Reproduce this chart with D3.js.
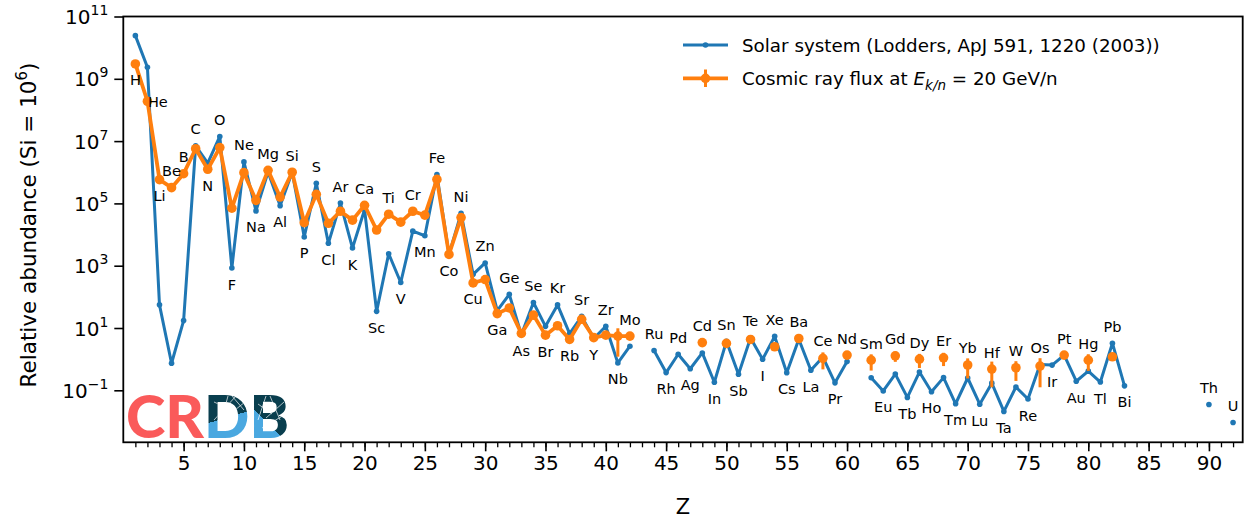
<!DOCTYPE html>
<html><head><meta charset="utf-8">
<script src="https://cdn.jsdelivr.net/npm/d3@7"></script>
<style>body{margin:0;background:#fff}svg{display:block}</style>
</head><body>
<svg id="c" width="1247" height="521"></svg>
<script>
// ---------------- DATA ----------------
const elementSymbols = ["H","He","Li","Be","B","C","N","O","F","Ne","Na","Mg","Al","Si","P","S","Cl","Ar","K","Ca",
 "Sc","Ti","V","Cr","Mn","Fe","Co","Ni","Cu","Zn","Ga","Ge","As","Se","Br","Kr","Rb","Sr","Y","Zr",
 "Nb","Mo","Tc","Ru","Rh","Pd","Ag","Cd","In","Sn","Sb","Te","I","Xe","Cs","Ba","La","Ce","Pr","Nd",
 "Pm","Sm","Eu","Gd","Tb","Dy","Ho","Er","Tm","Yb","Lu","Hf","Ta","W","Re","Os","Ir","Pt","Au","Hg",
 "Tl","Pb","Bi","Po","At","Rn","Fr","Ra","Ac","Th","Pa","U"];
// Solar system abundances (Z = 1..92), null = not given
const solarValues = [2.431e10,2.343e9,55.47,0.7374,17.32,7.079e6,1.950e6,1.413e7,841.1,2.148e6,
 5.751e4,1.020e6,8.410e4,1.0e6,8373,4.449e5,5237,1.025e5,3692,6.287e4,
 34.20,2422,288.4,1.286e4,9168,8.380e5,2323,4.780e4,527,1226,
 35.97,120.6,6.089,65.79,11.32,55.15,6.572,23.64,4.608,11.33,
 0.7554,2.601,null,1.900,0.3708,1.435,0.4913,1.584,0.1810,3.733,
 0.3292,4.815,0.9975,5.391,0.3671,4.351,0.4405,1.169,0.1737,0.8355,
 null,0.2542,0.09513,0.3321,0.05907,0.3862,0.08986,0.2554,0.0370,0.2484,
 0.03572,0.1699,0.02099,0.1277,0.05254,0.6738,0.6448,1.357,0.1955,0.4128,
 0.1845,3.258,0.1388,null,null,null,null,null,null,0.03512,null,0.009306];
// Cosmic ray flux at 20 GeV/n
const crZ = [1,2,3,4,5,6,7,8,9,10,11,12,13,14,15,16,17,18,19,20,21,22,23,24,25,26,27,28,29,30,
 31,32,33,34,35,36,37,38,39,40,41,42,
 48,50,52,54,56,58,60,62,64,66,68,70,72,74,76,78,80,82];
const crValues = [3.0e9,1.9e8,5.8e5,3.2e5,9.0e5,5.7e6,1.25e6,6.2e6,7.0e4,9.7e5,
 1.25e5,1.15e6,1.6e5,1.0e6,2.4e4,1.95e5,2.3e4,5.6e4,2.9e4,8.7e4,
 1.4e4,4.5e4,2.5e4,5.6e4,4.2e4,5.9e5,2.3e3,3.5e4,280,360,
 29,44,6.7,26,5.9,11.8,4.3,19,4.9,5.9,5.5,5.5,
 3.4,3.2,4.3,2.5,4.6,1.06,1.35,0.93,1.28,1.0,1.1,0.65,0.48,0.53,0.6,1.35,0.93,1.19];
const crErrors = [0,0,0,0,0,0,0,0,0,0,0,0,0,0,0,0,0,0,0,0,
 0,0,0,0,0,0,0,0,0,0,0,0,0,0,0,0,0,0,0,0,4.3,0.5,
 0.3,0.3,0.4,0.3,0.4,0.59,0.3,0.5,0.46,0.48,0.5,0.41,0.355,0.33,0.475,0.2,0.51,0.3];
const crConnectedMaxZ = 42;
const xTickValues = [5,10,15,20,25,30,35,40,45,50,55,60,65,70,75,80,85,90];
const yTickExponents = [-1,1,3,5,7,9,11];
const legendLabels = ["Solar system (Lodders, ApJ 591, 1220 (2003))","Cosmic ray flux at "];
const labelOverrides = {He:"right", Li:"belowCR", B:"above"};

// ---------------- LAYOUT ----------------
const BLUE="#1f77b4", ORANGE="#ff7f0e";
const FONT="'DejaVu Sans','Liberation Sans',sans-serif";
const L=123.3, R=1242.7, T=16.5, B=442.3;
const svg=d3.select("#c");
const x=d3.scaleLinear().domain([0,92.8]).range([L,R]);
const y=d3.scaleLog().domain([Math.pow(10,-2.669),1e11]).range([B,T]);

const solar = solarValues.map((v,i)=>({z:i+1,v}));
const cr = crZ.map((z,i)=>({z,v:crValues[i],e:crErrors[i]}));

// axes
const gx=svg.append("g").attr("transform",`translate(0,${B})`);
gx.call(d3.axisBottom(x).tickValues(d3.range(1,93)).tickSize(5).tickFormat(""))
  .call(g=>g.select(".domain").remove());
gx.selectAll("line").attr("stroke","#000").attr("stroke-width",1.3);
const gx2=svg.append("g").attr("transform",`translate(0,${B})`);
gx2.call(d3.axisBottom(x).tickValues(xTickValues).tickSize(9).tickPadding(5).tickFormat(d3.format("d")))
  .call(g=>g.select(".domain").remove());
gx2.selectAll("line").attr("stroke","#000").attr("stroke-width",1.6);
gx2.selectAll("text").attr("font-family",FONT).attr("font-size",20).attr("fill","#000");

const gy=svg.append("g").attr("transform",`translate(${L},0)`);
gy.call(d3.axisLeft(y).tickValues(yTickExponents.map(e=>Math.pow(10,e))).tickSize(9).tickFormat(""))
  .call(g=>g.select(".domain").remove());
gy.selectAll("line").attr("stroke","#000").attr("stroke-width",1.6);
gy.selectAll(".tick").each(function(d){
  const e=Math.round(Math.log10(d));
  const t=d3.select(this).append("text").attr("x",-15).attr("y",7).attr("text-anchor","end")
    .attr("font-family",FONT).attr("font-size",20).attr("fill","#000");
  t.append("tspan").text("10");
  t.append("tspan").attr("dy",-9).attr("font-size",14).text(e<0?"\u2212"+Math.abs(e):String(e));
});

// solar line
const line=d3.line().defined(d=>d.v!=null).x(d=>x(d.z)).y(d=>y(d.v));
svg.append("path").datum(solar).attr("d",line).attr("fill","none")
  .attr("stroke",BLUE).attr("stroke-width",3).attr("stroke-linejoin","round");
svg.append("g").selectAll("circle").data(solar.filter(d=>d.v!=null)).join("circle")
  .attr("cx",d=>x(d.z)).attr("cy",d=>y(d.v)).attr("r",2.8).attr("fill",BLUE);

// cosmic ray
const crLine=d3.line().x(d=>x(d.z)).y(d=>y(d.v));
svg.append("path").datum(cr.filter(d=>d.z<=crConnectedMaxZ)).attr("d",crLine).attr("fill","none")
  .attr("stroke",ORANGE).attr("stroke-width",3.8).attr("stroke-linejoin","round");
svg.append("g").selectAll("line").data(cr.filter(d=>d.e>0)).join("line")
  .attr("x1",d=>x(d.z)).attr("x2",d=>x(d.z))
  .attr("y1",d=>y(Math.max(d.v-d.e,1e-3))).attr("y2",d=>y(d.v+d.e))
  .attr("stroke",ORANGE).attr("stroke-width",3);
svg.append("g").selectAll("circle").data(cr).join("circle")
  .attr("cx",d=>x(d.z)).attr("cy",d=>y(d.v)).attr("r",4.8).attr("fill",ORANGE);

// element labels
const crMap=new Map(cr.map(d=>[d.z,d.v]));
const gl=svg.append("g").attr("font-family",FONT).attr("font-size",14.5).attr("fill","#000");
solar.forEach(d=>{
  const sym=elementSymbols[d.z-1];
  const vals=[d.v,crMap.get(d.z)].filter(v=>v!=null);
  if(!vals.length) return;
  const yMax=d3.min(vals.map(v=>y(v))), yMin=d3.max(vals.map(v=>y(v)));
  let mode=labelOverrides[sym]||(d.z%2===0?"above":"below");
  const t=gl.append("text").text(sym);
  if(mode==="above") t.attr("x",x(d.z)).attr("y",yMax-11.5).attr("text-anchor","middle");
  else if(mode==="below") t.attr("x",x(d.z)).attr("y",yMin+21.5).attr("text-anchor","middle");
  else if(mode==="belowCR") t.attr("x",x(d.z)).attr("y",y(crMap.get(d.z))+21.5).attr("text-anchor","middle");
  else if(mode==="right") t.attr("x",x(d.z)+0.5).attr("y",y(crMap.get(d.z))+5.5).attr("text-anchor","start");
});

// frame
svg.append("rect").attr("x",L).attr("y",T).attr("width",R-L).attr("height",B-T)
  .attr("fill","none").attr("stroke","#000").attr("stroke-width",1.8);

// axis labels
svg.append("text").attr("x",683).attr("y",514).attr("text-anchor","middle")
  .attr("font-family",FONT).attr("font-size",21).text("Z");
const yl=svg.append("text").attr("transform","translate(36,225) rotate(-90)").attr("text-anchor","middle")
  .attr("font-family",FONT).attr("font-size",21.5);
yl.append("tspan").text("Relative abundance (Si = 10");
yl.append("tspan").attr("dy",-9).attr("font-size",15).text("6");
yl.append("tspan").attr("dy",9).text(")");

// legend
const lg=svg.append("g").attr("font-family",FONT).attr("font-size",18.3);
lg.append("line").attr("x1",683).attr("x2",728).attr("y1",45).attr("y2",45).attr("stroke",BLUE).attr("stroke-width",3);
lg.append("circle").attr("cx",705.5).attr("cy",45).attr("r",2.8).attr("fill",BLUE);
lg.append("line").attr("x1",683).attr("x2",728).attr("y1",78.3).attr("y2",78.3).attr("stroke",ORANGE).attr("stroke-width",3.8);
lg.append("line").attr("x1",705.5).attr("x2",705.5).attr("y1",69.5).attr("y2",87).attr("stroke",ORANGE).attr("stroke-width",3);
lg.append("circle").attr("cx",705.5).attr("cy",78.3).attr("r",4.8).attr("fill",ORANGE);
lg.append("text").attr("x",742).attr("y",51.5).text(legendLabels[0]);
const t2=lg.append("text").attr("x",742).attr("y",85);
t2.append("tspan").text(legendLabels[1]);
t2.append("tspan").attr("font-style","italic").text("E");
t2.append("tspan").attr("font-style","italic").attr("font-size",13.5).attr("dy",5).text("k/n");
t2.append("tspan").attr("dy",-5).text(" = 20 GeV/n");

// logo
const defs=svg.append("defs");
const gD=defs.append("linearGradient").attr("id","gD").attr("gradientUnits","userSpaceOnUse")
  .attr("x1",227).attr("y1",406.6).attr("x2",233).attr("y2",426.6);
[[0,"#093e4e"],[0.5,"#093e4e"],[0.5,"#4aa8e0"],[1,"#4aa8e0"]].forEach(s=>gD.append("stop").attr("offset",s[0]).attr("stop-color",s[1]));
const gB=defs.append("linearGradient").attr("id","gB").attr("gradientUnits","userSpaceOnUse")
  .attr("x1",272).attr("y1",418).attr("x2",262).attr("y2",428);
[[0,"#093e4e"],[0.5,"#093e4e"],[0.5,"#4aa8e0"],[1,"#4aa8e0"]].forEach(s=>gB.append("stop").attr("offset",s[0]).attr("stop-color",s[1]));
const logoAttrs=t=>t.attr("x",126).attr("y",438).attr("font-family","Lato,'Open Sans',sans-serif")
  .attr("font-weight",900).attr("font-size",59).attr("textLength",163).attr("lengthAdjust","spacingAndGlyphs");
const logo=logoAttrs(svg.append("text"));
logo.append("tspan").attr("fill","#fa5a5a").text("CR");
logo.append("tspan").attr("fill","url(#gD)").text("D");
logo.append("tspan").attr("fill","url(#gB)").text("B");
// thin white network lines over the dark part of "DB"
const clip=defs.append("clipPath").attr("id","dbClip");
const ct=logoAttrs(clip.append("text"));
ct.append("tspan").attr("fill-opacity",0).text("CR");
ct.append("tspan").text("DB");
const net=svg.append("g").attr("clip-path","url(#dbClip)").attr("stroke","#fff").attr("stroke-width",0.8).attr("opacity",0.85);
[[214,420,236,396],[222,418,228,396],[230,414,250,398],[236,412,214,402],[244,410,232,396],
 [258,420,266,396],[266,418,284,402],[272,414,258,404],[280,420,270,396],[262,428,286,414]]
 .forEach(s=>net.append("line").attr("x1",s[0]).attr("y1",s[1]).attr("x2",s[2]).attr("y2",s[3]));
</script>
</body></html>
